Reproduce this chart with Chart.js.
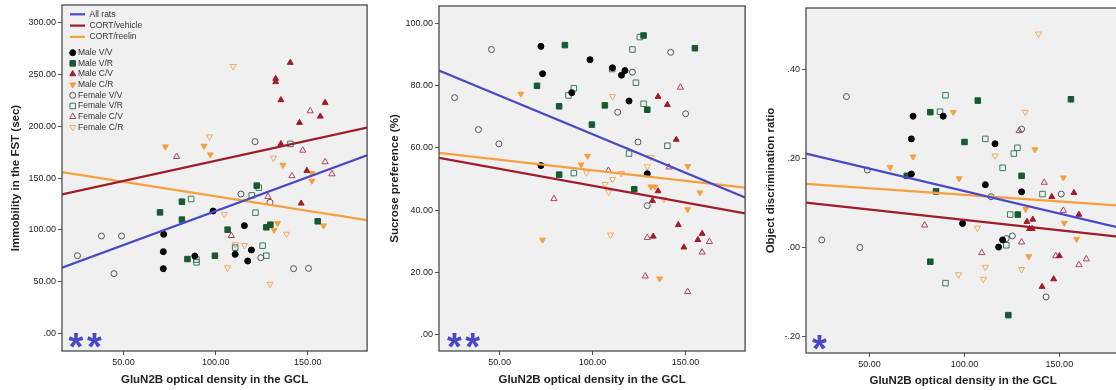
<!DOCTYPE html>
<html>
<head>
<meta charset="utf-8">
<script src="https://cdn.jsdelivr.net/npm/chart.js@4.4.1/dist/chart.umd.min.js"></script>
<style>
  body { margin: 0; background: #fff; width: 1116px; height: 390px; overflow: hidden; position: relative; }
  .panel { position: absolute; top: 0; height: 390px; }
</style>
</head>
<body>
<div class="panel" style="left:0;width:372px"><canvas id="fstChart"></canvas></div>
<div class="panel" style="left:372px;width:378px"><canvas id="sucroseChart"></canvas></div>
<div class="panel" style="left:750px;width:375px"><canvas id="odrChart"></canvas></div>
<script>
// group names (legend order) and fit line names
const groupLabels = ['Male V/V', 'Male V/R', 'Male C/V', 'Male C/R', 'Female V/V', 'Female V/R', 'Female C/V', 'Female C/R'];
const lineLabels = ['All rats', 'CORT/vehicle', 'CORT/reelin'];

const xTicks = [50, 100, 150];

// --- Immobility in the FST (sec) ---
const fstMaleVV = [[71.8,95.8],[71.6,79.1],[71.6,62.7],[88.7,74.9],[98.6,118.3],[110.6,76.5],[115.6,104.2],[119.4,80.7],[117.4,70.1]];
const fstMaleVR = [[69.8,117],[81.7,127.3],[81.7,110],[84.7,72],[99.6,75.2],[106.5,100.3],[122.3,142.8],[127.5,102.6],[129.7,105.1],[155.4,108.4]];
const fstMaleCV = [[140.5,261.4],[132.6,246],[132.6,242.8],[135.4,225.4],[145.5,203.5],[159.4,222.8],[156.8,209.6],[135.4,183],[149.5,157.2],[146.4,125.7]];
const fstMaleCR = [[72.7,180.4],[93.7,181],[97.1,172.7],[136.5,162.7],[152.2,154.7],[152.2,147.3],[133.6,106.4],[131.7,100],[158.5,104.2]];
const fstFemaleVV = [[25,75.2],[38,94.2],[48.9,94.2],[44.8,57.9],[113.7,134.7],[121.4,185.2],[129.5,126.7],[124.5,73.3],[142.3,62.7],[150.4,63]];
const fstFemaleVR = [[86.7,129.9],[89.6,71.4],[89.6,68.8],[110.6,83],[119.6,133.4],[121.6,116.7],[123.4,140.8],[125.5,84.9],[127.5,75.2],[140.6,183]];
const fstFemaleCV = [[78.8,170.7],[108.5,94.5],[128.4,132.2],[141.4,152.1],[147.3,176.8],[151.3,214.8],[159.4,165.6],[163.1,154]];
const fstFemaleCR = [[96.6,190],[109.5,257.9],[104.7,115.1],[106.5,63.7],[115.6,85.2],[110.6,86],[131.3,169.5],[129.5,47.9],[138.5,96.1]];
const fstFitAll = [[16.6,63.7],[182.2,172]];
const fstFitVehicle = [[16.6,134.4],[182.2,198.7]];
const fstFitReelin = [[16.6,155.9],[182.2,109.6]];
const fstTicks = [0, 50, 100, 150, 200, 250, 300];

// --- Sucrose preference (%) ---
const spMaleVV = [[72.2,54.3],[72.2,92.7],[73.1,83.9],[88.8,77.8],[98.6,88.4],[110.7,85.8],[115.5,83.4],[117.4,84.9],[119.6,75.1],[129.4,51.7]];
const spMaleVR = [[70.1,80],[82,73.4],[82,51.4],[85.1,93.1],[99.6,67.5],[106.6,73.7],[122.4,46.7],[127.4,96.2],[129.4,72.3],[155,92.1]];
const spMaleCV = [[135.2,76.5],[140.2,73.9],[145,62.7],[146.1,35.2],[135.2,46.1],[132.2,43],[132.6,31.5],[149.1,28],[156.6,30.4],[158.9,32.4]];
const spMaleCR = [[61.4,77.4],[73.1,30.4],[93.8,54.6],[97.3,57.4],[131.3,47.5],[133.5,47.5],[151.2,54.1],[157.7,45.6],[151.1,40.2],[136.1,17.9]];
const spFemaleVV = [[25.8,76.2],[38.6,65.9],[45.6,91.7],[49.6,61.3],[113.5,71.5],[121.4,84.4],[124.4,61.9],[129.4,41.4],[142,90.8],[150,71]];
const spFemaleVR = [[87,76.9],[89.9,79.2],[89.9,51.9],[110.5,85.4],[119.6,58.2],[121.4,91.7],[123.3,81],[125.4,95.7],[127.4,74.2],[140.2,60.7]];
const spFemaleCV = [[79.2,43.6],[108.5,52.7],[129.4,31.1],[128.3,18.7],[141.1,53.8],[147.2,79.5],[151.1,13.7],[158.9,26.4],[162.8,29.8]];
const spFemaleCR = [[110.7,76.6],[109.6,32],[106.7,48.3],[108.6,45.8],[96.8,52],[110.7,49.9],[115.5,51.8],[129.4,54],[131.3,57],[138.3,43.5]];
const spFitAll = [[17.4,84.9],[182,44]];
const spFitVehicle = [[17.4,56.8],[182,38.9]];
const spFitReelin = [[17.4,58.4],[182,47.2]];
const spTicks = [0, 20, 40, 60, 80, 100];

// --- Object discrimination ratio ---
const odMaleVV = [[72,0.165],[72,0.244],[72.9,0.295],[88.8,0.295],[99,0.054],[111,0.141],[116.1,0.233],[118,0.001],[120.1,0.017],[130.1,0.125]];
const odMaleVR = [[69.6,0.161],[82,0.304],[82,-0.032],[85,0.126],[100,0.237],[107,0.33],[123.1,-0.152],[128.1,0.074],[130.1,0.161],[156.1,0.333]];
const odMaleCV = [[132.9,0.058],[136,0.063],[134.3,0.042],[135.7,0.042],[146,0.114],[157.7,0.123],[160.3,0.074],[140.9,-0.088],[147,-0.071],[150,-0.019]];
const odMaleCR = [[60.8,0.18],[72.9,0.204],[94.1,0.304],[97.2,0.155],[137.1,0.22],[132.3,0.086],[133.9,-0.02],[152.1,0.157],[152.6,0.055],[159.1,0.019]];
const odFemaleVV = [[24.8,0.017],[37.8,0.339],[44.9,0],[48.8,0.174],[114,0.114],[122,0.02],[125.2,0.026],[130.1,0.266],[143,-0.111],[151,0.12]];
const odFemaleVR = [[87.1,0.305],[90,0.342],[90,-0.08],[111,0.244],[120.1,0.179],[122,0.005],[124.1,0.074],[126,0.211],[127.9,0.224],[141.1,0.12]];
const odFemaleCV = [[79,0.05],[109.1,-0.012],[128.8,0.262],[130.1,0.012],[142,0.146],[148.1,-0.019],[152.1,0.083],[160.3,-0.039],[164.2,-0.026]];
const odFemaleCR = [[139,0.48],[132,0.304],[116.1,0.206],[106.8,0.044],[111,-0.044],[110,-0.071],[96.9,-0.061],[130.1,-0.049]];
const odFitAll = [[16.5,0.211],[182,0.044]];
const odFitVehicle = [[16.5,0.101],[182,0.024]];
const odFitReelin = [[16.5,0.143],[182,0.094]];
const odTicks = [-0.2, 0, 0.2, 0.4];

// styles
const FONT = 'Arial, "Liberation Sans", sans-serif';
Chart.defaults.font.family = FONT;
const lineColors = ['#4848c8', '#a01c2a', '#f5a03c'];
const groupStyles = [
  { shape: 'circle', fill: '#000', stroke: '#000', r: 3 },
  { shape: 'rect', fill: '#165a32', stroke: '#165a32', r: 3.9 },
  { shape: 'up', fill: '#a01c2a', stroke: '#a01c2a', r: 3.4 },
  { shape: 'down', fill: '#f5a03c', stroke: '#f5a03c', r: 3.4 },
  { shape: 'circle', fill: null, stroke: '#555', r: 3 },
  { shape: 'rect', fill: null, stroke: '#3b7d5a', r: 3.9 },
  { shape: 'up', fill: null, stroke: '#b4445a', r: 3.6 },
  { shape: 'down', fill: null, stroke: '#f5aa60', r: 3.6 }
];

function fmt(v) {
  return v.toFixed(2).replace(/^(-?)0\./, '$1.');
}

function drawMarker(ctx, s, x, y) {
  ctx.beginPath();
  if (s.shape === 'circle') {
    ctx.arc(x, y, s.r, 0, Math.PI * 2);
  } else if (s.shape === 'rect') {
    const h = s.r * Math.SQRT1_2;
    ctx.rect(x - h, y - h, 2 * h, 2 * h);
  } else {
    const d = s.shape === 'up' ? 1 : -1;
    const r = s.r;
    ctx.moveTo(x, y - d * r);
    ctx.lineTo(x + r * 0.866, y + d * r / 2);
    ctx.lineTo(x - r * 0.866, y + d * r / 2);
    ctx.closePath();
  }
  if (s.fill) { ctx.fillStyle = s.fill; ctx.fill(); }
  ctx.strokeStyle = s.stroke;
  ctx.lineWidth = 1;
  ctx.stroke();
}

// plot background, frame, legend and significance stars
const panelPlugin = {
  id: 'panelDecor',
  beforeDraw(chart) {
    const { ctx, chartArea: a } = chart;
    ctx.save();
    ctx.fillStyle = '#f0f0f0';
    ctx.fillRect(a.left, a.top, a.right - a.left, a.bottom - a.top);
    ctx.restore();
  },
  afterDraw(chart, args, opts) {
    const { ctx, chartArea: a } = chart;
    ctx.save();
    ctx.strokeStyle = '#4a4a4a';
    ctx.lineWidth = 1.3;
    ctx.strokeRect(a.left, a.top, a.right - a.left, a.bottom - a.top);

    ctx.fillStyle = '#4848c8';
    ctx.font = 'bold 38px ' + FONT;
    ctx.textAlign = 'center';
    ctx.textBaseline = 'alphabetic';
    opts.stars.forEach(dx => ctx.fillText('*', a.left + dx, a.bottom + 9));

    if (opts.legend) {
      ctx.font = '8.5px ' + FONT;
      ctx.textAlign = 'left';
      ctx.textBaseline = 'middle';
      lineLabels.forEach((lab, i) => {
        const y = a.top + 9.3 + i * 11.3;
        ctx.strokeStyle = lineColors[i];
        ctx.lineWidth = 2.2;
        ctx.beginPath();
        ctx.moveTo(a.left + 8, y);
        ctx.lineTo(a.left + 23, y);
        ctx.stroke();
        ctx.fillStyle = '#333';
        ctx.fillText(lab, a.left + 27.5, y);
      });
      groupLabels.forEach((lab, i) => {
        const y = a.top + 47.7 + i * 10.66;
        drawMarker(ctx, groupStyles[i], a.left + 10.7, y);
        ctx.fillStyle = '#333';
        ctx.fillText(lab, a.left + 16, y);
      });
    }
    ctx.restore();
  }
};

function pointStyleOf(s) {
  return {
    pointStyle: s.shape === 'circle' ? 'circle' : (s.shape === 'rect' ? 'rect' : 'triangle'),
    rotation: s.shape === 'down' ? 180 : 0,
    radius: s.r,
    backgroundColor: s.fill || 'rgba(0,0,0,0)',
    borderColor: s.stroke
  };
}

function makeChart(id, p) {
  const datasets = [];
  p.fits.forEach((pts, i) => {
    datasets.push({
      type: 'line', label: lineLabels[i],
      data: pts.map(([x, y]) => ({ x, y })),
      borderColor: lineColors[i], borderWidth: 2.2,
      pointRadius: 0, fill: false, tension: 0
    });
  });
  p.groups.forEach((pts, i) => {
    const st = pointStyleOf(groupStyles[i]);
    datasets.push({
      type: 'scatter', label: groupLabels[i],
      data: pts.map(([x, y]) => ({ x, y })),
      pointStyle: st.pointStyle, rotation: st.rotation,
      pointRadius: st.radius, pointHoverRadius: st.radius,
      backgroundColor: st.backgroundColor, borderColor: st.borderColor,
      pointBorderWidth: 1
    });
  });

  return new Chart(document.getElementById(id), {
    type: 'scatter',
    data: { datasets },
    options: {
      responsive: true,
      maintainAspectRatio: false,
      animation: false,
      layout: { padding: { left: 0, right: p.padRight, top: p.padTop, bottom: 0 } },
      plugins: {
        legend: { display: false },
        tooltip: { enabled: false },
        panelDecor: { legend: p.legend, stars: p.stars }
      },
      scales: {
        x: {
          type: 'linear', min: p.xMin, max: p.xMax,
          afterBuildTicks: s => { s.ticks = xTicks.map(v => ({ value: v })); },
          afterFit: s => { s.height = p.xHeight; s.paddingLeft = 0; s.paddingRight = 0; },
          ticks: { callback: fmt, font: { size: 9 }, color: '#222', padding: 2, maxRotation: 0 },
          grid: { drawOnChartArea: false, tickLength: 4, color: '#555' },
          border: { display: false },
          title: { display: true, text: 'GluN2B optical density in the GCL', color: '#222',
                   font: { size: 11.5, weight: 'bold' }, padding: { top: 2, bottom: p.xTitleBottom } }
        },
        y: {
          type: 'linear', min: p.yMin, max: p.yMax,
          afterBuildTicks: s => { s.ticks = p.yTicks.map(v => ({ value: v })); },
          afterFit: s => { s.width = p.yWidth; s.paddingTop = 0; s.paddingBottom = 0; },
          ticks: { callback: fmt, font: { size: 9 }, color: '#222', padding: 2 },
          grid: { drawOnChartArea: false, tickLength: 4, color: '#555' },
          border: { display: false },
          title: { display: true, text: p.yTitle, color: '#222',
                   font: { size: 11.5, weight: 'bold' }, padding: { top: p.yTitleTop, bottom: 2 } }
        }
      }
    },
    plugins: [panelPlugin]
  });
}

makeChart('fstChart', {
  groups: [fstMaleVV, fstMaleVR, fstMaleCV, fstMaleCR, fstFemaleVV, fstFemaleVR, fstFemaleCV, fstFemaleCR],
  fits: [fstFitAll, fstFitVehicle, fstFitReelin],
  xMin: 16.6, xMax: 182.2, yMin: -16.7, yMax: 317, yTicks: fstTicks,
  yTitle: 'Immobility in the FST (sec)',
  yWidth: 62, padRight: 3, padTop: 5, xHeight: 39, xTitleBottom: 3, yTitleTop: 9.3,
  legend: true, stars: [14, 32.5]
});

makeChart('sucroseChart', {
  groups: [spMaleVV, spMaleVR, spMaleCV, spMaleCR, spFemaleVV, spFemaleVR, spFemaleCV, spFemaleCR],
  fits: [spFitAll, spFitVehicle, spFitReelin],
  xMin: 17.4, xMax: 182, yMin: -5.4, yMax: 105.7, yTicks: spTicks,
  yTitle: 'Sucrose preference (%)',
  yWidth: 67, padRight: 2.3, padTop: 6, xHeight: 39, xTitleBottom: 3, yTitleTop: 16,
  legend: false, stars: [15.4, 33.7]
});

makeChart('odrChart', {
  groups: [odMaleVV, odMaleVR, odMaleCV, odMaleCR, odFemaleVV, odFemaleVR, odFemaleCV, odFemaleCR],
  fits: [odFitAll, odFitVehicle, odFitReelin],
  xMin: 16.5, xMax: 182, yMin: -0.237, yMax: 0.538, yTicks: odTicks,
  yTitle: 'Object discrimination ratio',
  yWidth: 56, padRight: 4, padTop: 8, xHeight: 37, xTitleBottom: 2, yTitleTop: 14.3,
  legend: false, stars: [13.3]
});
</script>
</body>
</html>
